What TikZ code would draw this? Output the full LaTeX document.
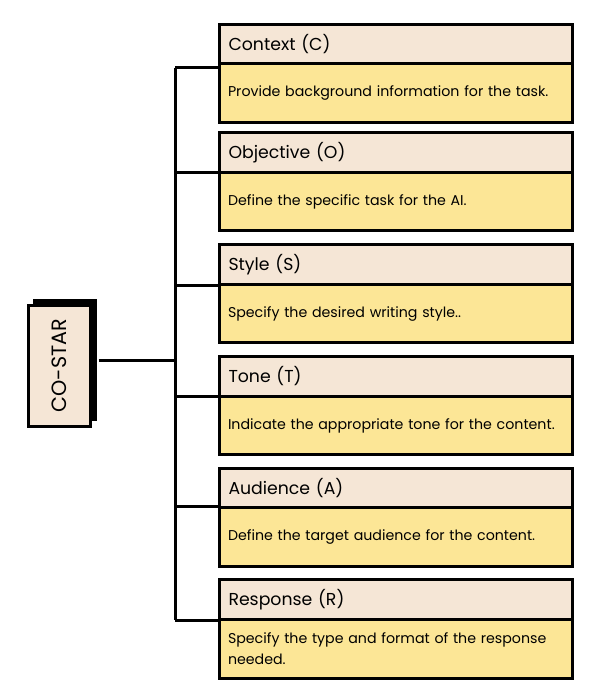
\documentclass[tikz,border=0pt]{standalone}
\usepackage{fontspec}
\setmainfont{Poppins}
\definecolor{hdr}{RGB}{245,230,214}
\definecolor{bdy}{RGB}{252,230,150}
\begin{document}
\begin{tikzpicture}[x=1pt,y=-1pt,line width=3pt,
  hdrbox/.style={draw,fill=hdr,rectangle,anchor=north west,minimum width=353pt,
    minimum height=#1,text width=335pt,inner xsep=9pt,inner ysep=0pt,align=left,
    font=\fontsize{17.3}{20}\selectfont},
  bdybox/.style={draw,fill=bdy,rectangle,anchor=north west,minimum width=353pt,
    minimum height=#1,text width=336pt,inner xsep=8.5pt,inner ysep=0pt,align=left,
    font=\fontsize{14.2}{21}\selectfont},
  conn/.style={draw,line width=3pt}]
\useasboundingbox (0,0) rectangle (600,700);
% boxes
\node[bdybox=59pt] (b1) at (218,62) {Provide background information for the task.};
\node[hdrbox=39pt] (h1) at (218,23) {Context (C)};
\node[bdybox=58pt] (b2) at (218,171) {Define the specific task for the AI.};
\node[hdrbox=40pt] (h2) at (218,131) {Objective (O)};
\node[bdybox=58pt] (b3) at (218,283) {Specify the desired writing style..};
\node[hdrbox=40pt] (h3) at (218,243) {Style (S)};
\node[bdybox=58pt] (b4) at (218,395) {Indicate the appropriate tone for the content.};
\node[hdrbox=40pt] (h4) at (218,355) {Tone (T)};
\node[bdybox=59pt] (b5) at (218,506) {Define the target audience for the content.};
\node[hdrbox=39pt] (h5) at (218,467) {Audience (A)};
\node[bdybox=59pt] (b6) at (218,618) {Specify the type and format of the response needed.};
\node[hdrbox=40pt] (h6) at (218,578) {Response (R)};
% CO-STAR
\fill (33,299) rectangle (97,421);
\node[draw,fill=hdr,rectangle,minimum width=62pt,minimum height=121pt,inner sep=0pt] (cs) at (59,365.5) {};
\node[rotate=90,font=\fontsize{20.7}{24}\selectfont] (cst) at (cs.center) {CO-STAR};
% connectors
\coordinate (t1) at (175,68);
\coordinate (t2) at (175,173);
\coordinate (t3) at (175,285);
\coordinate (t4) at (175,396);
\coordinate (t5) at (175,506);
\coordinate (t6) at (175,620);
\coordinate (tm) at (175,360);
\draw[conn] (t1) -- (t6);
\foreach \i in {1,...,6} {\draw[conn] (t\i) -- (t\i -| b\i.west);}
\draw[conn] (cs.east |- tm) ++(7,0) -- (tm);
\end{tikzpicture}
\end{document}
